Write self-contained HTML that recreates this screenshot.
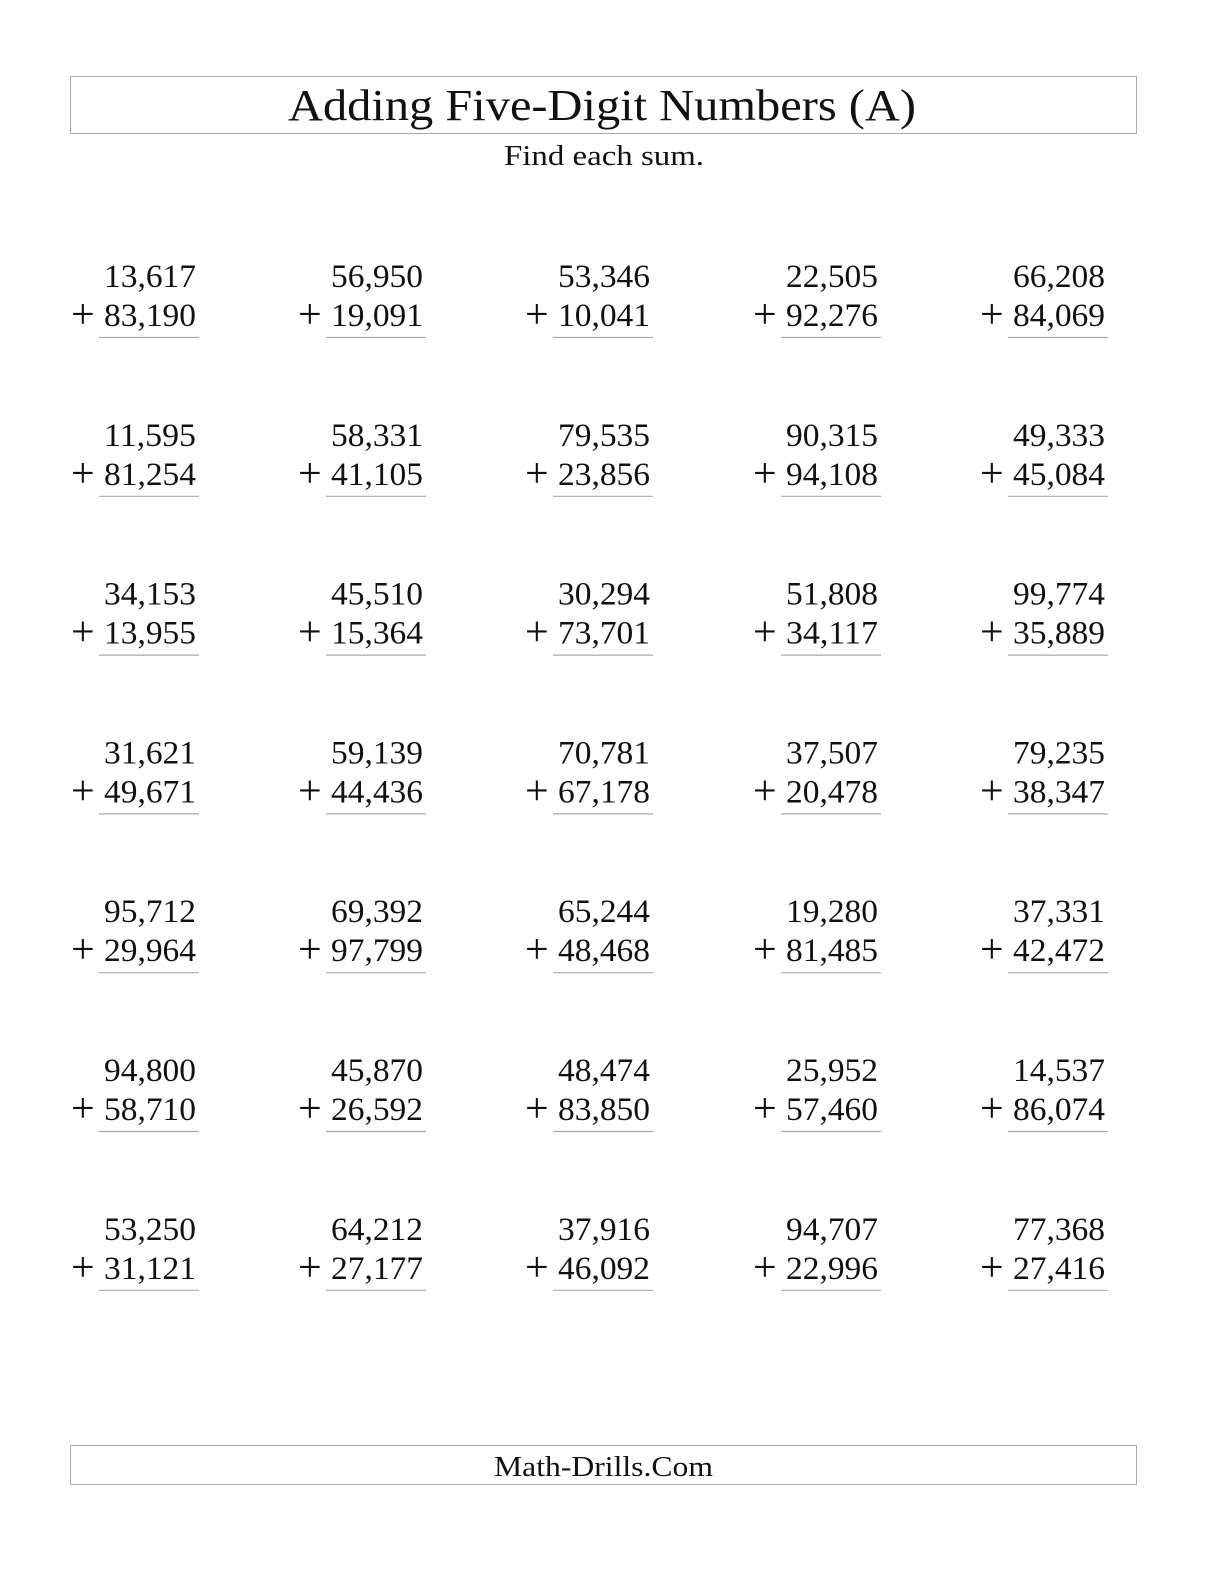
<!DOCTYPE html>
<html><head><meta charset="utf-8"><style>
html,body{margin:0;padding:0;background:#fff;overflow:hidden;width:1224px;height:1584px}
svg{display:block}
text{font-family:"Liberation Serif",serif;fill:#111}
</style></head><body>
<svg width="1224" height="1584" viewBox="0 0 1224 1584" xmlns="http://www.w3.org/2000/svg">
<rect x="70.5" y="76.5" width="1066" height="57" fill="none" stroke="#aaa" stroke-width="1"/>
<text x="288" y="120" font-size="44" textLength="628" lengthAdjust="spacingAndGlyphs">Adding Five-Digit Numbers (A)</text>
<text x="504" y="165" font-size="28" textLength="200" lengthAdjust="spacingAndGlyphs">Find each sum.</text>
<rect x="70.5" y="1445.5" width="1066" height="39" fill="none" stroke="#aaa" stroke-width="1"/>
<text x="494" y="1476" font-size="28" textLength="219" lengthAdjust="spacingAndGlyphs">Math-Drills.Com</text>
<g id="probs" font-size="33"></g>
</svg>
<script>
var d=[["13,617","83,190","56,950","19,091","53,346","10,041","22,505","92,276","66,208","84,069"],
["11,595","81,254","58,331","41,105","79,535","23,856","90,315","94,108","49,333","45,084"],
["34,153","13,955","45,510","15,364","30,294","73,701","51,808","34,117","99,774","35,889"],
["31,621","49,671","59,139","44,436","70,781","67,178","37,507","20,478","79,235","38,347"],
["95,712","29,964","69,392","97,799","65,244","48,468","19,280","81,485","37,331","42,472"],
["94,800","58,710","45,870","26,592","48,474","83,850","25,952","57,460","14,537","86,074"],
["53,250","31,121","64,212","27,177","37,916","46,092","94,707","22,996","77,368","27,416"]];
var cols=[196,423,650,878,1105],s='';
for(var r=0;r<7;r++){var y=287+r*158.8;for(var c=0;c<5;c++){var x=cols[c];
s+='<text x="'+x+'" y="'+y+'" text-anchor="end" textLength="92" lengthAdjust="spacingAndGlyphs">'+d[r][2*c]+'</text>';
s+='<text x="'+x+'" y="'+(y+39)+'" text-anchor="end" textLength="92" lengthAdjust="spacingAndGlyphs">'+d[r][2*c+1]+'</text>';
s+='<text x="'+(x-125)+'" y="'+(y+41)+'" font-size="42">+</text>';
s+='<line x1="'+(x-97)+'" x2="'+(x+3)+'" y1="'+(y+50.5)+'" y2="'+(y+50.5)+'" stroke="#aaa" stroke-width="1.2"/>';}}
document.getElementById('probs').innerHTML=s;
</script>
</body></html>
